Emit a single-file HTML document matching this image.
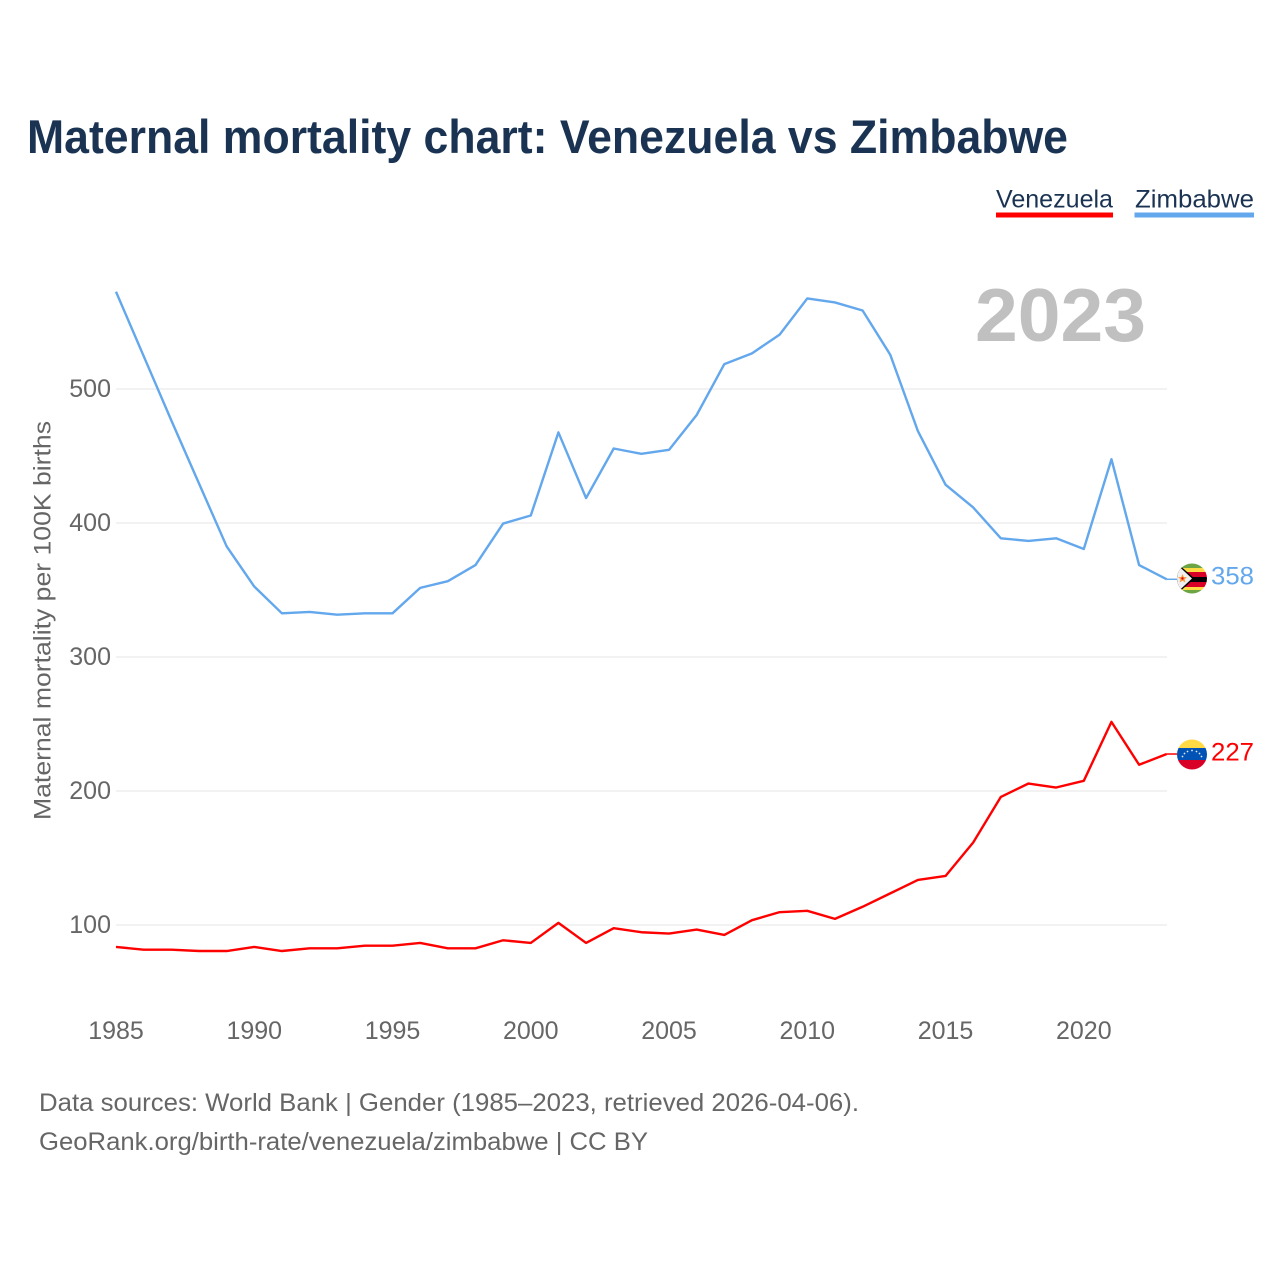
<!DOCTYPE html>
<html lang="en">
<head>
<meta charset="utf-8">
<title>Maternal mortality chart: Venezuela vs Zimbabwe</title>
<style>
  html, body { margin: 0; padding: 0; background: #ffffff; }
  body { width: 1280px; height: 1280px; overflow: hidden; }
  svg { display: block; font-family: "Liberation Sans", sans-serif; }
</style>
</head>
<body>
<svg id="chart" xmlns="http://www.w3.org/2000/svg" width="1280" height="1280" viewBox="0 0 1280 1280">
  <defs>
    <clipPath id="flag-clip-zw"><circle cx="1192" cy="578.5" r="15"/></clipPath>
    <clipPath id="flag-clip-ve"><circle cx="1192" cy="754.5" r="15"/></clipPath>
  </defs>
  <rect x="0" y="0" width="1280" height="1280" fill="#ffffff"/>

  <text x="27" y="153" font-size="47" font-weight="700" fill="#1a3353" textLength="1041" lengthAdjust="spacingAndGlyphs">Maternal mortality chart: Venezuela vs Zimbabwe</text>

  <g>
    <g>
      <text x="996" y="207.5" font-size="25" fill="#1a3353" textLength="117" lengthAdjust="spacingAndGlyphs">Venezuela</text>
      <rect x="996" y="212.5" width="117" height="5" fill="#ff0000"/>
    </g>
    <g>
      <text x="1135" y="207.5" font-size="25" fill="#1a3353" textLength="119" lengthAdjust="spacingAndGlyphs">Zimbabwe</text>
      <rect x="1134.5" y="212.5" width="119.5" height="5" fill="#63a7ec"/>
    </g>
  </g>

  <g id="grid"></g>
  <g id="y-labels"></g>
  <g id="x-labels"></g>

  <text transform="translate(50.5,620.5) rotate(-90)" text-anchor="middle" font-size="24.5" fill="#666666" textLength="399" lengthAdjust="spacingAndGlyphs">Maternal mortality per 100K births</text>

  <text x="975" y="341" font-size="75" font-weight="700" fill="#c0c0c0" textLength="171" lengthAdjust="spacingAndGlyphs">2023</text>

  <g id="series"></g>

  <g clip-path="url(#flag-clip-zw)">
    <rect x="1177" y="563" width="30" height="31" fill="#ffffff"/>
    <rect x="1177" y="563" width="30" height="5" fill="#6da544"/>
    <rect x="1177" y="568" width="30" height="4" fill="#ffda44"/>
    <rect x="1177" y="572" width="30" height="5" fill="#d80027"/>
    <rect x="1177" y="577" width="30" height="5" fill="#000000"/>
    <rect x="1177" y="582" width="30" height="5" fill="#d80027"/>
    <rect x="1177" y="587" width="30" height="3" fill="#ffda44"/>
    <rect x="1177" y="590" width="30" height="4" fill="#6da544"/>
    <polygon points="1177,563 1194.5,578.5 1177,594" fill="#000000"/>
    <polygon points="1177,564.5 1192,578.5 1177,592.5" fill="#f0f0f0"/>
    <polygon points="1182.5,574 1183.8,577 1187,577.3 1184.6,579.4 1185.4,582.5 1182.5,580.8 1179.6,582.5 1180.4,579.4 1178,577.3 1181.2,577" fill="#ff9a3c"/>
    <circle cx="1182.5" cy="578.5" r="1.2" fill="#d80027"/>
  </g>
  <text id="end-label-zw" x="1211" y="584.5" font-size="25" fill="#63a7ec" textLength="43" lengthAdjust="spacingAndGlyphs">358</text>

  <g clip-path="url(#flag-clip-ve)">
    <rect x="1177" y="739" width="30" height="9.5" fill="#ffda44"/>
    <rect x="1177" y="748" width="30" height="12" fill="#0052b4"/>
    <rect x="1177" y="760" width="30" height="11" fill="#d80027"/>
    <g fill="#dfe8f5">
      <circle cx="1182.5" cy="756.5" r="0.9"/>
      <circle cx="1184.5" cy="753.5" r="0.9"/>
      <circle cx="1187.5" cy="751.5" r="0.9"/>
      <circle cx="1192" cy="750.5" r="0.9"/>
      <circle cx="1196.5" cy="751.5" r="0.9"/>
      <circle cx="1199.5" cy="753.5" r="0.9"/>
      <circle cx="1201.5" cy="756.5" r="0.9"/>
    </g>
  </g>
  <text id="end-label-ve" x="1211" y="760.5" font-size="25" fill="#ff0000" textLength="43" lengthAdjust="spacingAndGlyphs">227</text>

  <g>
    <text x="39" y="1111" font-size="25" fill="#666666" textLength="820" lengthAdjust="spacingAndGlyphs">Data sources: World Bank | Gender (1985–2023, retrieved 2026-04-06).</text>
    <text x="39" y="1150" font-size="25" fill="#666666" textLength="609" lengthAdjust="spacingAndGlyphs">GeoRank.org/birth-rate/venezuela/zimbabwe | CC BY</text>
  </g>
</svg>
<script>
const years = [1985,1986,1987,1988,1989,1990,1991,1992,1993,1994,1995,1996,1997,1998,1999,2000,2001,2002,2003,2004,2005,2006,2007,2008,2009,2010,2011,2012,2013,2014,2015,2016,2017,2018,2019,2020,2021,2022,2023];
const zimbabweValues = [572.6,524.6,476.6,429.6,382.6,352.6,332.6,333.6,331.6,332.6,332.6,351.6,356.6,368.6,399.6,405.6,467.6,418.6,455.6,451.6,454.6,480.6,518.6,526.6,540.6,567.6,564.6,558.6,525.6,468.6,428.6,411.6,388.6,386.6,388.6,380.6,447.6,368.6,358];
const venezuelaValues = [83.6,81.6,81.6,80.6,80.6,83.6,80.6,82.6,82.6,84.6,84.6,86.6,82.6,82.6,88.6,86.6,101.6,86.6,97.6,94.6,93.6,96.6,92.6,103.6,109.6,110.6,104.6,113.6,123.6,133.6,136.6,161.6,195.6,205.6,202.6,207.6,251.6,219.6,227.6];
const yTicks = [100,200,300,400,500];
const xTicks = [1985,1990,1995,2000,2005,2010,2015,2020];

const NS = 'http://www.w3.org/2000/svg';
function xScale(year) { return 116 + (year - 1985) * (1083.8 - 116) / 35; }
function yScale(value) { return 925 - (value - 100) * 1.34; }

const gridGroup = document.getElementById('grid');
const yLabelGroup = document.getElementById('y-labels');
const xLabelGroup = document.getElementById('x-labels');
const seriesGroup = document.getElementById('series');

yTicks.forEach(function (tick) {
  const line = document.createElementNS(NS, 'line');
  line.setAttribute('x1', 116);
  line.setAttribute('x2', 1167);
  line.setAttribute('y1', yScale(tick));
  line.setAttribute('y2', yScale(tick));
  line.setAttribute('stroke', '#eeeeee');
  line.setAttribute('stroke-width', '1.5');
  
  
  gridGroup.appendChild(line);

  const label = document.createElementNS(NS, 'text');
  label.setAttribute('x', 111);
  label.setAttribute('y', yScale(tick) + 8);
  label.setAttribute('text-anchor', 'end');
  label.setAttribute('font-size', '25');
  label.setAttribute('fill', '#666666');
  
  
  label.textContent = tick;
  yLabelGroup.appendChild(label);
});

xTicks.forEach(function (tick) {
  const label = document.createElementNS(NS, 'text');
  label.setAttribute('x', xScale(tick));
  label.setAttribute('y', 1039);
  label.setAttribute('text-anchor', 'middle');
  label.setAttribute('font-size', '25');
  label.setAttribute('fill', '#666666');
  
  
  label.textContent = tick;
  xLabelGroup.appendChild(label);
});

function pathFor(values) {
  return values.map(function (v, i) {
    return (i === 0 ? 'M' : 'L') + xScale(years[i]).toFixed(2) + ' ' + yScale(v).toFixed(2);
  }).join(' ');
}

const zimbabweLine = document.createElementNS(NS, 'path');
zimbabweLine.setAttribute('d', pathFor(zimbabweValues));
zimbabweLine.setAttribute('fill', 'none');
zimbabweLine.setAttribute('stroke', '#63a7ec');
zimbabweLine.setAttribute('stroke-width', '2.4');
zimbabweLine.setAttribute('stroke-linejoin', 'round');


seriesGroup.appendChild(zimbabweLine);

const venezuelaLine = document.createElementNS(NS, 'path');
venezuelaLine.setAttribute('d', pathFor(venezuelaValues));
venezuelaLine.setAttribute('fill', 'none');
venezuelaLine.setAttribute('stroke', '#ff0000');
venezuelaLine.setAttribute('stroke-width', '2.4');
venezuelaLine.setAttribute('stroke-linejoin', 'round');


seriesGroup.appendChild(venezuelaLine);

const lastYear = years[years.length - 1];

const zimbabweLeader = document.createElementNS(NS, 'line');
zimbabweLeader.setAttribute('x1', xScale(lastYear));
zimbabweLeader.setAttribute('x2', 1177);
zimbabweLeader.setAttribute('y1', yScale(zimbabweValues[zimbabweValues.length - 1]));
zimbabweLeader.setAttribute('y2', yScale(zimbabweValues[zimbabweValues.length - 1]));
zimbabweLeader.setAttribute('stroke', '#63a7ec');
zimbabweLeader.setAttribute('stroke-width', '1.5');


seriesGroup.appendChild(zimbabweLeader);

const venezuelaLeader = document.createElementNS(NS, 'line');
venezuelaLeader.setAttribute('x1', xScale(lastYear));
venezuelaLeader.setAttribute('x2', 1177);
venezuelaLeader.setAttribute('y1', yScale(venezuelaValues[venezuelaValues.length - 1]));
venezuelaLeader.setAttribute('y2', yScale(venezuelaValues[venezuelaValues.length - 1]));
venezuelaLeader.setAttribute('stroke', '#ff0000');
venezuelaLeader.setAttribute('stroke-width', '1.5');


seriesGroup.appendChild(venezuelaLeader);
</script>
</body>
</html>
